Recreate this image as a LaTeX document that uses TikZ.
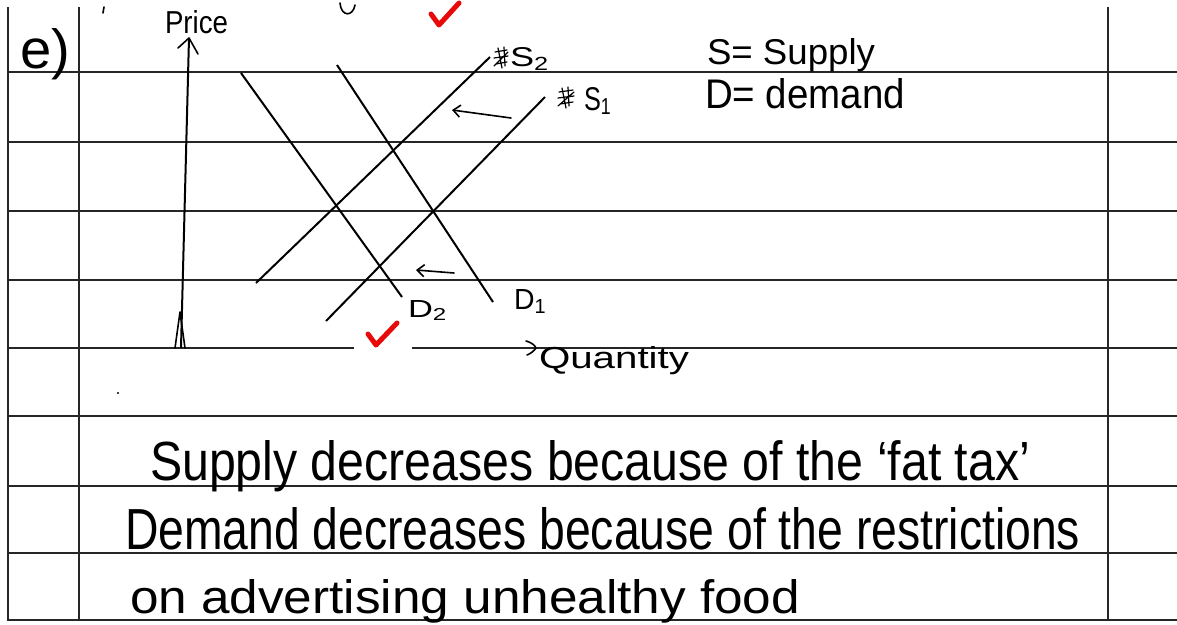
\documentclass[tikz,border=0pt]{standalone}
\usepackage{fontspec}
\setmainfont{Liberation Sans}
\usetikzlibrary{arrows.meta}
\definecolor{tickred}{RGB}{232,10,10}
\tikzset{
  rule/.style={line width=1.6pt, black!85},
  curve/.style={line width=2pt, black},
  pen/.style={line width=1.6pt, black, line cap=round, line join=round},
  shiftarrow/.style={pen, -{Straight Barb[length=7pt,width=12pt]}},
  tick/.style={line width=5pt, tickred, line cap=round, line join=round},
  hand/.style={inner sep=0pt, outer sep=0pt, anchor=base west},
}
\newcommand{\hw}[3]{\resizebox{#1pt}{#2pt}{#3}}
\begin{document}
\begin{tikzpicture}[x=1pt,y=-1pt]
\useasboundingbox (0,0) rectangle (1177,624);
\fill[white] (0,0) rectangle (1177,624);
% ruled lines
\foreach \yy in {72,142,211,280,416,486,553,620}{
  \draw[rule] (8,\yy) -- (1177,\yy);
}
\draw[rule] (8,348) -- (354,348);
\draw[rule] (412,348) -- (1177,348);
\foreach \xx in {8,79,1108}{
  \draw[rule] (\xx,7) -- (\xx,621);
}
% question label
\node[hand] (qlabel) at (20,68) {\hw{50}{40}{e)}};
% stray marks
\draw[pen] (104,7) -- (103,13);
\draw[pen] (340,3) .. controls (341,17) and (353,17) .. (355,5);
\fill (118,393) circle (1.2);
% price axis
\coordinate (origin) at (181,348);
\coordinate (ptop) at (189,38);
\draw[curve] (origin) -- (ptop);
\draw[pen] (178,48) -- (ptop) -- (198,54);
\draw[pen] (175,348) -- (180,312) -- (185,348);
\node[hand] (price) at (165,33) {\hw{63}{23}{Price}};
% quantity axis tip and label
\coordinate (qtip) at (536,348);
\draw[pen] (526,341) .. controls (533,343) and (535,346) .. (qtip) .. controls (534,351) and (530,354) .. (527,355);
\node[hand] (quantity) at (539,368) {\hw{150}{22}{Quantity}};
% demand curves
\coordinate (d2a) at (241,73);
\coordinate (d2b) at (402,297);
\coordinate (d1a) at (337,65);
\coordinate (d1b) at (493,302);
\draw[curve] (d2a) -- (d2b);
\draw[curve] (d1a) -- (d1b);
% supply curves
\coordinate (s2a) at (256,283);
\coordinate (s2b) at (490,57);
\coordinate (s1a) at (326,321);
\coordinate (s1b) at (545,97);
\draw[curve] (s2a) -- (s2b);
\draw[curve] (s1a) -- (s1b);
% shift arrows
\coordinate (sa1) at (511,118);
\coordinate (sa2) at (452,110);
\draw[shiftarrow] (sa1) -- (sa2);
\coordinate (da1) at (454,273);
\coordinate (da2) at (416,270);
\draw[shiftarrow] (da1) -- (da2);
% scribbles before S labels
\draw[pen, line width=1.2pt] (495,52) -- (507,50) (494,58) -- (508,56) (496,64) -- (507,62)
  (498,48) -- (502,68) (504,47) -- (505,66) (494,66) -- (508,52);
\draw[pen, line width=1.2pt] (559,92) -- (573,90) (558,98) -- (574,96) (560,104) -- (573,102)
  (562,88) -- (566,108) (568,87) -- (569,106) (558,106) -- (574,92);
% curve labels
\node[hand] (s2lab) at (510,66) {\hw{40}{19}{S\textsubscript{2}}};
\node[hand] (s1lab) at (584,110) {\hw{28}{23}{S\textsubscript{1}}};
\node[hand] (d2lab) at (408,317) {\hw{40}{17}{D\textsubscript{2}}};
\node[hand] (d1lab) at (514,309) {\hw{33}{20}{D\textsubscript{1}}};
% legend
\node[hand] (legs) at (707,64) {\hw{168}{26}{S= Supply}};
\node[hand] (legd) at (705,108) {\hw{200}{30}{D= demand}};
% red ticks
\fill[white] (354,342) rectangle (412,353);
\draw[tick] (431,14) -- (439,25) -- (459,3);
\draw[tick] (368,334) -- (376,345) -- (397,323);
% explanation
\node[hand] (line1) at (150,480) {\hw{880}{40}{Supply decreases because of the ‘fat tax’}};
\node[hand] (line2) at (125,549) {\hw{955}{42}{Demand decreases because of the restrictions}};
\node[hand] (line3) at (130,613) {\hw{670}{34}{on advertising unhealthy food}};
\end{tikzpicture}
\end{document}
